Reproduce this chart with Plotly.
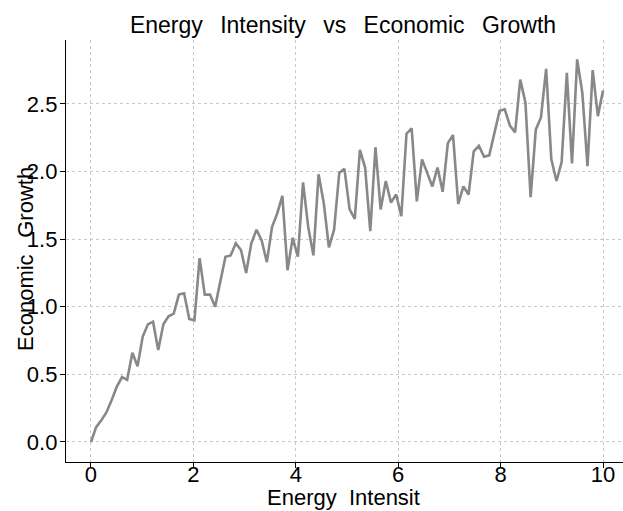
import plotly.graph_objects as go
import numpy as np

energy_intensity = list(np.linspace(0, 10, 100))
economic_growth = [
    0.00, 0.11, 0.16, 0.22, 0.31, 0.41, 0.48, 0.46, 0.66, 0.56,
    0.78, 0.87, 0.89, 0.68, 0.87, 0.93, 0.95, 1.09, 1.10, 0.91,
    0.90, 1.36, 1.09, 1.09, 1.00, 1.19, 1.37, 1.38, 1.47, 1.42,
    1.25, 1.47, 1.57, 1.49, 1.33, 1.59, 1.69, 1.82, 1.27, 1.51,
    1.37, 1.92, 1.59, 1.38, 1.98, 1.77, 1.44, 1.57, 1.99, 2.02,
    1.72, 1.65, 2.16, 2.03, 1.56, 2.18, 1.72, 1.93, 1.77, 1.83,
    1.67, 2.28, 2.32, 1.78, 2.09, 1.99, 1.89, 2.03, 1.85, 2.21,
    2.27, 1.76, 1.89, 1.83, 2.15, 2.19, 2.11, 2.12, 2.28, 2.45,
    2.46, 2.34, 2.29, 2.68, 2.51, 1.81, 2.31, 2.40, 2.76, 2.09,
    1.93, 2.07, 2.73, 2.06, 2.83, 2.58, 2.04, 2.75, 2.41, 2.60,
]
x_ticks = [0, 2, 4, 6, 8, 10]
y_ticks = [0.0, 0.5, 1.0, 1.5, 2.0, 2.5]
y_tick_labels = ["0.0", "0.5", "1.0", "1.5", "2.0", "2.5"]

title_text = "Energy\u00a0 \u2009Intensity\u00a0 \u2009vs\u00a0 \u2009Economic\u00a0 \u2009Growth"
x_title = "Energy\u00a0 Intensit"
y_title = "Economic\u00a0 \u2009Growth"

FONT = "Liberation Sans, Arial, sans-serif"
W, H = 623, 511
L, R, T, B = 66, 0, 40, 49
PW, PH = W - L - R, H - T - B

fig = go.Figure()
fig.add_trace(go.Scatter(
    x=energy_intensity, y=economic_growth, mode="lines",
    line=dict(color="#888888", width=2.6), showlegend=False,
))

fig.update_layout(
    width=W, height=H,
    margin=dict(l=L, r=R, t=T, b=B, pad=0),
    paper_bgcolor="white", plot_bgcolor="white",
    font=dict(family=FONT, size=22, color="black"),
    title=dict(text=title_text, x=343 / W, xanchor="center",
               y=(H - 33) / H, yanchor="bottom", yref="container",
               font=dict(family=FONT, size=23, color="black")),
)

fig.add_annotation(
    text=x_title, xref="paper", yref="paper",
    x=(343 - L) / PW, y=-(483 - (T + PH)) / PH,
    xanchor="center", yanchor="top", showarrow=False,
    font=dict(family=FONT, size=22, color="black"),
)
fig.add_annotation(
    text=y_title, xref="paper", yref="paper",
    x=(25 - L) / PW, y=(T + PH - 259) / PH,
    xanchor="center", yanchor="middle", showarrow=False, textangle=-90,
    font=dict(family=FONT, size=22, color="black"),
)

fig.update_xaxes(
    range=[-0.488, 10.39], tickvals=x_ticks, ticktext=[str(t) for t in x_ticks],
    showline=True, linecolor="black", linewidth=1.3, mirror=False,
    ticks="outside", ticklen=5, tickwidth=1.2, tickcolor="black",
    showgrid=True, gridcolor="#c8c8c8", griddash="dot", gridwidth=1,
    zeroline=False, tickfont=dict(size=22), ticklabelstandoff=-13,
    automargin=False,
)
fig.update_yaxes(
    range=[-0.148, 2.973], tickvals=y_ticks, ticktext=y_tick_labels,
    showline=True, linecolor="black", linewidth=1.3, mirror=False,
    ticks="outside", ticklen=5, tickwidth=1.2, tickcolor="black",
    showgrid=True, gridcolor="#c8c8c8", griddash="dot", gridwidth=1,
    zeroline=False, tickfont=dict(size=22), ticklabelstandoff=-2,
    automargin=False,
)

fig.write_html(
    "out.html",
    config={"displayModeBar": False},
    post_script="document.body.style.margin='0px';document.body.style.overflow='hidden';",
)
